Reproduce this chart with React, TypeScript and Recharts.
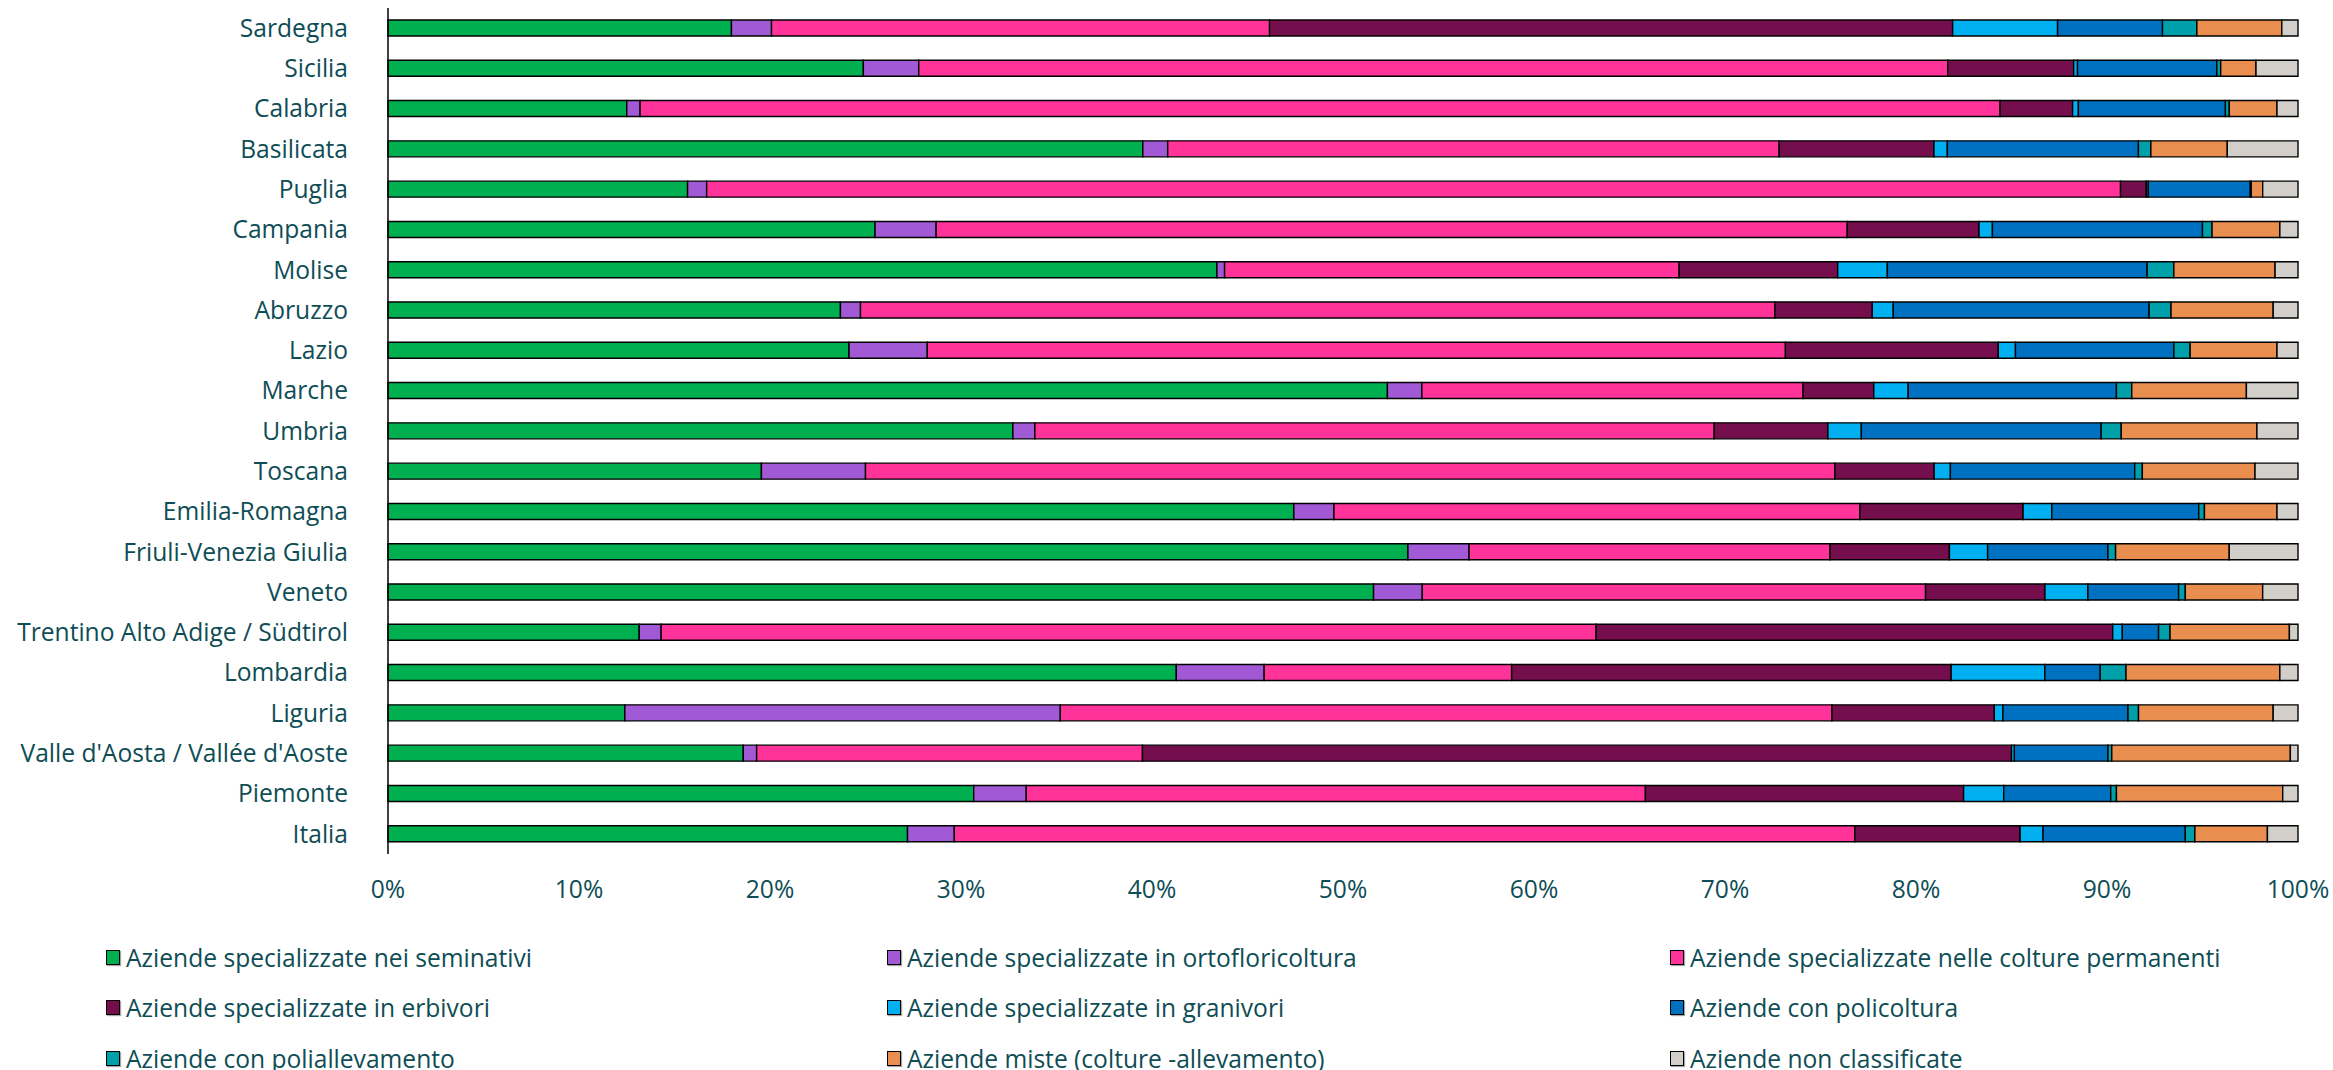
import React from 'react';
import { BarChart, Bar, XAxis, YAxis, Legend } from 'recharts';

const regions = [
  'Sardegna', 'Sicilia', 'Calabria', 'Basilicata', 'Puglia', 'Campania', 'Molise', 'Abruzzo', 'Lazio', 'Marche',
  'Umbria', 'Toscana', 'Emilia-Romagna', 'Friuli-Venezia Giulia', 'Veneto', 'Trentino Alto Adige / Südtirol',
  'Lombardia', 'Liguria', "Valle d'Aosta / Vallée d'Aoste", 'Piemonte', 'Italia',
];

const seminativi = [18.0, 24.9, 12.5, 39.5, 15.7, 25.5, 43.4, 23.7, 24.15, 52.3, 32.7, 19.55, 47.45, 53.4, 51.6, 13.15, 41.25, 12.4, 18.6, 30.65, 27.2];
const ortofloricoltura = [2.1, 2.9, 0.7, 1.3, 1.0, 3.2, 0.4, 1.05, 4.1, 1.8, 1.15, 5.45, 2.1, 3.2, 2.55, 1.15, 4.6, 22.8, 0.7, 2.75, 2.45];
const permanenti = [26.1, 53.9, 71.2, 32.0, 74.1, 47.7, 23.8, 47.9, 44.95, 19.95, 35.55, 50.75, 27.55, 18.9, 26.35, 48.95, 12.95, 40.4, 20.2, 32.4, 47.15];
const erbivori = [35.8, 6.6, 3.8, 8.1, 1.35, 6.9, 8.3, 5.1, 11.15, 3.7, 5.95, 5.2, 8.55, 6.25, 6.25, 27.05, 23.0, 8.5, 45.5, 16.65, 8.65];
const granivori = [5.5, 0.2, 0.3, 0.7, 0.1, 0.7, 2.6, 1.1, 0.9, 1.8, 1.75, 0.85, 1.5, 2.0, 2.25, 0.5, 4.9, 0.45, 0.15, 2.1, 1.2];
const policoltura = [5.5, 7.3, 7.7, 10.0, 5.35, 11.0, 13.6, 13.4, 8.3, 10.9, 12.55, 9.65, 7.7, 6.3, 4.75, 1.9, 2.9, 6.55, 4.9, 5.6, 7.45];
const poliallevamento = [1.8, 0.2, 0.2, 0.65, 0.05, 0.5, 1.4, 1.15, 0.85, 0.8, 1.05, 0.4, 0.3, 0.4, 0.35, 0.6, 1.35, 0.55, 0.2, 0.3, 0.5];
const miste = [4.45, 1.85, 2.5, 4.0, 0.6, 3.55, 5.3, 5.35, 4.55, 6.0, 7.1, 5.9, 3.8, 5.95, 4.05, 6.25, 8.05, 7.05, 9.35, 8.7, 3.8];
const nonClassificate = [0.85, 2.2, 1.1, 3.7, 1.85, 0.95, 1.2, 1.3, 1.1, 2.7, 2.15, 2.25, 1.1, 3.6, 1.85, 0.45, 0.95, 1.3, 0.4, 0.8, 1.6];

const xTicks = [0, 0.1, 0.2, 0.3, 0.4, 0.5, 0.6, 0.7, 0.8, 0.9, 1];

const series = [
  { key: 'seminativi', name: 'Aziende specializzate nei seminativi', color: '#00B050', values: seminativi },
  { key: 'ortofloricoltura', name: 'Aziende specializzate in ortofloricoltura', color: '#A259D6', values: ortofloricoltura },
  { key: 'permanenti', name: 'Aziende specializzate nelle colture permanenti', color: '#FF3399', values: permanenti },
  { key: 'erbivori', name: 'Aziende specializzate in erbivori', color: '#750E4D', values: erbivori },
  { key: 'granivori', name: 'Aziende specializzate in granivori', color: '#00B0F0', values: granivori },
  { key: 'policoltura', name: 'Aziende con policoltura', color: '#0070C0', values: policoltura },
  { key: 'poliallevamento', name: 'Aziende con poliallevamento', color: '#00A0AA', values: poliallevamento },
  { key: 'miste', name: 'Aziende miste (colture -allevamento)', color: '#E98E4F', values: miste },
  { key: 'nonClassificate', name: 'Aziende non classificate', color: '#D2CFCA', values: nonClassificate },
];

const data = regions.map((region, i) => {
  const row: Record<string, any> = { region };
  series.forEach((s) => { row[s.key] = s.values[i]; });
  return row;
});

const FONT = "'Open Sans', sans-serif";
const TEXT = '#0E4D55';
const FS = 24.6;

const W = 2333;
const H = 1070;
const LEGEND_H = 140;
const colX = [106, 887, 1670];
const rowY = [27, 77, 128];

const LegendContent = (props: any) => {
  const payload = [...(props.payload || [])].sort(
    (a: any, b: any) =>
      series.findIndex((s) => s.name === a.value) - series.findIndex((s) => s.name === b.value),
  );
  return (
    <div style={{ position: 'relative', width: W, height: LEGEND_H }}>
      {payload.map((p: any, i: number) => {
        const c = i % 3;
        const r = Math.floor(i / 3);
        return (
          <div
            key={p.value}
            style={{
              position: 'absolute',
              left: colX[c],
              top: rowY[r] - 16,
              height: 32,
              display: 'flex',
              alignItems: 'center',
              fontFamily: FONT,
              fontSize: FS,
              color: TEXT,
              whiteSpace: 'nowrap',
            }}
          >
            <span
              style={{
                display: 'inline-block',
                width: 12,
                height: 13,
                background: p.color,
                border: '1.5px solid #000',
                boxShadow: '1px 1px 1px rgba(0,0,0,0.35)',
                marginRight: 6,
              }}
            />
            <span>{p.value}</span>
          </div>
        );
      })}
    </div>
  );
};

export default function App() {
  return (
    <div style={{ position: 'absolute', left: 0, top: 0, width: W, height: H, background: '#fff' }}>
      <BarChart
        width={W}
        height={H}
        data={data}
        layout="vertical"
        stackOffset="expand"
        barSize={16}
        margin={{ top: 8, right: 35, bottom: 0, left: 0 }}
      >
        <XAxis
          type="number"
          domain={[0, 1]}
          ticks={xTicks}
          tickFormatter={(v: number) => `${Math.round(v * 100)}%`}
          axisLine={false}
          tickLine={false}
          tickSize={6}
          tickMargin={21}
          height={76}
          interval={0}
          tick={{ fill: TEXT, fontSize: FS, fontFamily: FONT }}
        />
        <YAxis
          type="category"
          dataKey="region"
          width={388}
          axisLine={{ stroke: '#000', strokeWidth: 1.5 }}
          tickLine={false}
          tickSize={6}
          tickMargin={34}
          interval={0}
          tick={{ fill: TEXT, fontSize: FS, fontFamily: FONT }}
        />
        <Legend
          verticalAlign="bottom"
          align="left"
          height={LEGEND_H}
          wrapperStyle={{ left: 0, width: W, bottom: 0 }}
          content={<LegendContent />}
        />
        {series.map((s) => (
          <Bar
            key={s.key}
            dataKey={s.key}
            name={s.name}
            stackId="a"
            fill={s.color}
            stroke="#000"
            strokeWidth={1.4}
            isAnimationActive={false}
          />
        ))}
      </BarChart>
    </div>
  );
}
